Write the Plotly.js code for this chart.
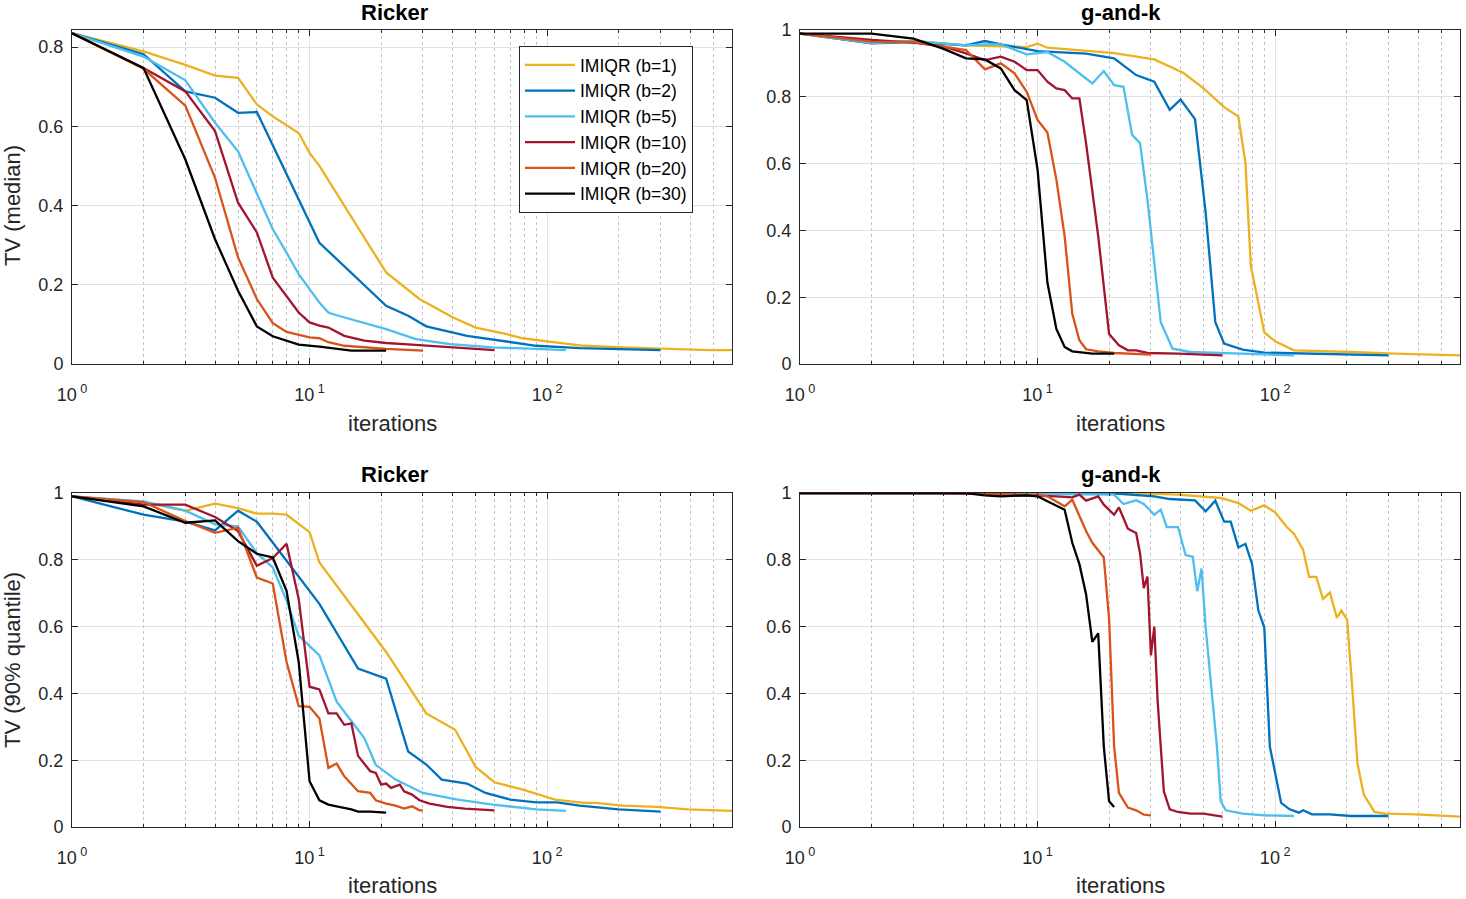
<!DOCTYPE html>
<html><head><meta charset="utf-8">
<script src="https://cdn.plot.ly/plotly-3.0.1.min.js"></script>
<style>html,body{margin:0;padding:0;background:#fff}#chart{width:1466px;height:899px}</style>
</head><body><div id="chart"></div>
<script>
// ---------- labels ----------
const seriesNames = ["IMIQR (b=1)","IMIQR (b=2)","IMIQR (b=5)","IMIQR (b=10)","IMIQR (b=20)","IMIQR (b=30)"];
const seriesColors = ["#EDB120","#0072BD","#4DBEEE","#A2142F","#D95319","#000000"];
const panelTitles = ["Ricker","g-and-k","Ricker","g-and-k"];
const yLabels = ["TV (median)","TV (90% quantile)"];
const xLabel = "iterations";
const xTickVals = [1,10,100];
const xTickText = ["10<sup> 0</sup>","10<sup> 1</sup>","10<sup> 2</sup>"];
const xMinorVals = [2,3,4,5,6,7,8,9,20,30,40,50,60,70,80,90,200,300,400,500,600];

// ---------- Ricker, median ----------
const rmX1 = [1,2,3,4,5,6,7,9,10,11,21,29,40,50,67,79,106,143,208,317,483,600];
const rmY1 = [0.835,0.789,0.755,0.728,0.722,0.655,0.625,0.583,0.533,0.5,0.231,0.164,0.118,0.092,0.076,0.065,0.055,0.046,0.042,0.038,0.035,0.035];
const rmX2 = [1,2,3,4,5,6,11,21,26,31,46,70,90,137,208,300];
const rmY2 = [0.835,0.782,0.688,0.672,0.634,0.636,0.306,0.147,0.122,0.095,0.071,0.055,0.046,0.040,0.038,0.035];
const rmX5 = [1,2,3,4,5,6,7,8,9,10,11,12,13,21,28,39,59,90,120];
const rmY5 = [0.835,0.776,0.716,0.609,0.537,0.432,0.34,0.281,0.227,0.189,0.155,0.13,0.123,0.088,0.063,0.05,0.042,0.038,0.035];
const rmX10 = [1,2,3,4,5,6,7,9,10,11,12,14,17,21,25,39,60];
const rmY10 = [0.835,0.747,0.688,0.588,0.407,0.332,0.218,0.13,0.105,0.097,0.092,0.071,0.059,0.053,0.05,0.042,0.035];
const rmX20 = [1,2,3,4,5,6,7,8,10,11,12,14,21,30];
const rmY20 = [0.835,0.745,0.652,0.47,0.269,0.164,0.103,0.081,0.067,0.065,0.055,0.046,0.038,0.034];
const rmX30 = [1,2,3,4,5,6,7,9,11,13,15,21];
const rmY30 = [0.835,0.747,0.516,0.315,0.185,0.095,0.07,0.049,0.044,0.038,0.034,0.034];

// ---------- g-and-k, median ----------
const gmX1 = [1,2,3,5,9,10,11,21,31,41,50,61,70,75,79,90,100,120,208,317,600];
const gmY1 = [0.989,0.961,0.967,0.954,0.949,0.959,0.947,0.931,0.912,0.872,0.825,0.769,0.741,0.602,0.294,0.095,0.068,0.041,0.036,0.031,0.026];
const gmX2 = [1,2,3,5,6,7,10,16,21,26,31,36,40,46,51,56,61,73,90,137,300];
const gmY2 = [0.989,0.96,0.964,0.954,0.967,0.957,0.937,0.929,0.915,0.865,0.845,0.761,0.792,0.733,0.453,0.125,0.061,0.043,0.034,0.031,0.026];
const gmX5 = [1,2,3,5,6,7,9,11,13,17,19,21,23,25,27,29,33,37,44,59,120];
const gmY5 = [0.989,0.961,0.967,0.954,0.957,0.957,0.927,0.934,0.905,0.84,0.877,0.835,0.83,0.686,0.661,0.493,0.125,0.046,0.036,0.033,0.026];
const gmX10 = [1,2,3,4,5,6,7,8,9,10,11,12,13,14,15,16,18,20,22,24,26,29,39,60];
const gmY10 = [0.989,0.97,0.962,0.951,0.93,0.91,0.92,0.905,0.88,0.88,0.845,0.825,0.82,0.795,0.795,0.661,0.383,0.09,0.056,0.041,0.041,0.033,0.031,0.026];
const gmX20 = [1,2,3,4,5,6,7,8,9,10,11,12,13,14,15,16,18,21,30];
const gmY20 = [0.989,0.965,0.964,0.95,0.94,0.882,0.9,0.87,0.815,0.731,0.693,0.552,0.383,0.15,0.071,0.044,0.038,0.033,0.028];
const gmX30 = [1,2,3,4,5,6,7,8,9,10,11,12,13,14,17,21];
const gmY30 = [0.989,0.989,0.974,0.944,0.915,0.912,0.885,0.82,0.79,0.582,0.244,0.105,0.051,0.038,0.031,0.031];

// ---------- Ricker, 90% quantile ----------
const rqX1 = [1,2,3,4,5,6,7,8,10,11,21,31,41,50,60,79,108,143,160,208,290,390,600];
const rqY1 = [0.99,0.973,0.947,0.968,0.955,0.938,0.938,0.935,0.883,0.792,0.524,0.34,0.291,0.18,0.134,0.112,0.082,0.072,0.072,0.064,0.06,0.053,0.048];
const rqX2 = [1,2,3,4,5,6,11,16,21,26,31,36,46,55,70,90,110,137,200,300];
const rqY2 = [0.99,0.935,0.914,0.888,0.947,0.914,0.668,0.474,0.444,0.226,0.187,0.142,0.13,0.102,0.082,0.074,0.074,0.064,0.053,0.046];
const rqX5 = [1,2,3,4,5,6,7,8,9,11,13,17,19,23,30,42,59,90,120];
const rqY5 = [0.99,0.975,0.947,0.906,0.9,0.82,0.777,0.678,0.573,0.514,0.375,0.266,0.186,0.142,0.102,0.082,0.067,0.053,0.048];
const rqX10 = [1,2,3,4,5,6,7,8,9,10,11,12,13,14,15,16,18,19,20,21,22,24,25,27,29,32,38,45,60];
const rqY10 = [0.99,0.965,0.965,0.928,0.886,0.782,0.805,0.848,0.683,0.42,0.412,0.34,0.34,0.306,0.31,0.213,0.167,0.162,0.127,0.13,0.117,0.127,0.107,0.097,0.08,0.07,0.06,0.055,0.05];
const rqX20 = [1,2,3,4,5,6,7,8,9,10,11,12,13,14,16,18,19,21,23,25,27,29,30];
const rqY20 = [0.99,0.973,0.916,0.881,0.896,0.747,0.729,0.494,0.362,0.36,0.325,0.177,0.19,0.152,0.107,0.102,0.08,0.07,0.064,0.055,0.062,0.05,0.05];
const rqX30 = [1,2,3,4,5,6,7,8,9,10,11,12,13,15,16,18,21];
const rqY30 = [0.99,0.96,0.911,0.918,0.856,0.818,0.807,0.707,0.494,0.137,0.08,0.067,0.062,0.053,0.046,0.046,0.043];

// ---------- g-and-k, 90% quantile ----------
const gqX1 = [1,10,30,39,59,70,79,90,100,112,120,131,139,149,159,170,182,190,201,212,222,236,262,290,390,600];
const gqY1 = [1.0,1.0,0.998,0.995,0.985,0.97,0.947,0.963,0.942,0.898,0.878,0.831,0.749,0.749,0.683,0.702,0.626,0.648,0.62,0.4,0.191,0.097,0.045,0.04,0.038,0.031];
const gqX2 = [1,20,31,36,46,51,56,61,65,70,75,80,85,90,95,100,106,115,126,131,143,170,208,300];
const gqY2 = [1.0,1.0,0.99,0.982,0.978,0.945,0.977,0.914,0.914,0.837,0.848,0.787,0.648,0.598,0.241,0.162,0.072,0.053,0.043,0.05,0.038,0.038,0.033,0.033];
const gqX5 = [1,10,11,17,21,23,26,28,31,33,35,39,42,45,47,49,51,54,57,59,62,73,90,120];
const gqY5 = [1.0,1.0,0.997,0.995,0.995,0.967,0.978,0.967,0.935,0.95,0.898,0.898,0.814,0.809,0.706,0.774,0.598,0.41,0.234,0.077,0.05,0.04,0.035,0.033];
const gqX10 = [1,4,6,10,12,14,15,16,18,19,21,22,24,26,27,28,29,30,31,32,34,36,39,44,50,60];
const gqY10 = [1.0,1.0,0.997,0.993,0.99,0.987,0.995,0.977,0.99,0.965,0.935,0.957,0.893,0.88,0.819,0.715,0.75,0.514,0.6,0.38,0.107,0.053,0.045,0.04,0.04,0.031];
const gqX20 = [1,5,7,10,11,13,14,16,17,19,20,21,22,24,26,28,30];
const gqY20 = [1.0,1.0,0.995,0.995,0.99,0.96,0.98,0.886,0.851,0.807,0.623,0.241,0.102,0.058,0.05,0.037,0.035];
const gqX30 = [1,5,6,7,9,10,11,13,14,15,16,17,18,19,20,21];
const gqY30 = [1.0,1.0,0.993,0.99,0.993,0.99,0.975,0.95,0.851,0.787,0.697,0.554,0.58,0.241,0.077,0.06];

// ---------- build ----------
const W = 1466, H = 899;
const px = x => x / W;
const py = y => 1 - y / H;

const panels = [
  {xs:[rmX1,rmX2,rmX5,rmX10,rmX20,rmX30], ys:[rmY1,rmY2,rmY5,rmY10,rmY20,rmY30], xa:'x', ya:'y', legend:true},
  {xs:[gmX1,gmX2,gmX5,gmX10,gmX20,gmX30], ys:[gmY1,gmY2,gmY5,gmY10,gmY20,gmY30], xa:'x2', ya:'y2', legend:false},
  {xs:[rqX1,rqX2,rqX5,rqX10,rqX20,rqX30], ys:[rqY1,rqY2,rqY5,rqY10,rqY20,rqY30], xa:'x3', ya:'y3', legend:false},
  {xs:[gqX1,gqX2,gqX5,gqX10,gqX20,gqX30], ys:[gqY1,gqY2,gqY5,gqY10,gqY20,gqY30], xa:'x4', ya:'y4', legend:false}
];

const traces = [];
panels.forEach(p => {
  for (let i = 0; i < seriesNames.length; i++) {
    traces.push({
      type:'scatter', mode:'lines', x:p.xs[i], y:p.ys[i], xaxis:p.xa, yaxis:p.ya,
      name:seriesNames[i], showlegend:p.legend,
      line:{color:seriesColors[i], width:2.3}, hoverinfo:'skip'
    });
  }
});

const axisColor = '#262626';
const FONT = 'Liberation Sans, Arial, sans-serif';
const tickFont = {family:FONT, size:18, color:axisColor};

function xAxis(domain, anchor) {
  return {
    type:'log', domain:domain, anchor:anchor, range:[0, Math.log10(600)],
    tickmode:'array', tickvals:xTickVals, ticktext:xTickText,
    ticks:'inside', ticklen:6, tickwidth:1, tickcolor:axisColor,
    showline:true, linecolor:axisColor, linewidth:1, mirror:'ticks',
    showgrid:true, gridcolor:'#e2e2e2', gridwidth:1, zeroline:false,
    minor:{tickmode:'array', tickvals:xMinorVals, ticks:'inside', ticklen:3, tickcolor:axisColor,
           showgrid:true, gridcolor:'#c4c4c4', griddash:'dot', gridwidth:1},
    tickfont:tickFont, ticklabelstandoff:14, fixedrange:true
  };
}
function yAxis(domain, anchor, top) {
  return {
    domain:domain, anchor:anchor, range:[0, top], tickmode:'linear', tick0:0, dtick:0.2,
    ticks:'inside', ticklen:6, tickwidth:1, tickcolor:axisColor,
    showline:true, linecolor:axisColor, linewidth:1, mirror:'ticks',
    showgrid:true, gridcolor:'#e2e2e2', gridwidth:1, zeroline:false,
    tickfont:tickFont, ticklabelstandoff:4, fixedrange:true
  };
}

const L = [px(72), px(732)], R = [px(800), px(1460)];
const T = [py(364), py(30)], B = [py(827), py(493)];

const labelFont = {family:FONT, size:22, color:axisColor};
const titleFont = {family:FONT, size:22, color:'#000000', weight:'bold'};

function ann(text, x, y, font, angle) {
  const a = {text:text, xref:'paper', yref:'paper', x:px(x), y:py(y), showarrow:false,
             xanchor:'center', yanchor:'middle', font:font};
  if (angle !== undefined) a.textangle = angle;
  return a;
}

const annotations = [
  ann('<b>'+panelTitles[0]+'</b>', 395, 12, titleFont),
  ann('<b>'+panelTitles[1]+'</b>', 1121, 12, titleFont),
  ann('<b>'+panelTitles[2]+'</b>', 395, 474, titleFont),
  ann('<b>'+panelTitles[3]+'</b>', 1121, 474, titleFont),
  ann(xLabel, 392, 423, labelFont),
  ann(xLabel, 1120, 423, labelFont),
  ann(xLabel, 392, 885, labelFont),
  ann(xLabel, 1120, 885, labelFont),
  ann(yLabels[0], 12, 206, labelFont, -90),
  ann(yLabels[1], 12, 660, labelFont, -90)
];

const layout = {
  width:W, height:H, margin:{l:0,r:0,t:0,b:0}, paper_bgcolor:'#ffffff', plot_bgcolor:'#ffffff',
  showlegend:true,
  legend:{x:px(519), y:py(46), xanchor:'left', yanchor:'top', bgcolor:'#ffffff',
          bordercolor:axisColor, borderwidth:1, itemwidth:50,
          font:{family:FONT, size:17.5, color:'#000000'}},
  xaxis: xAxis(L, 'y'),  yaxis: yAxis(T, 'x', 0.843),
  xaxis2:xAxis(R, 'y2'), yaxis2:yAxis(T, 'x2', 1),
  xaxis3:xAxis(L, 'y3'), yaxis3:yAxis(B, 'x3', 1),
  xaxis4:xAxis(R, 'y4'), yaxis4:yAxis(B, 'x4', 1),
  annotations:annotations
};

Plotly.newPlot('chart', traces, layout, {staticPlot:true, displayModeBar:false});
</script></body></html>
